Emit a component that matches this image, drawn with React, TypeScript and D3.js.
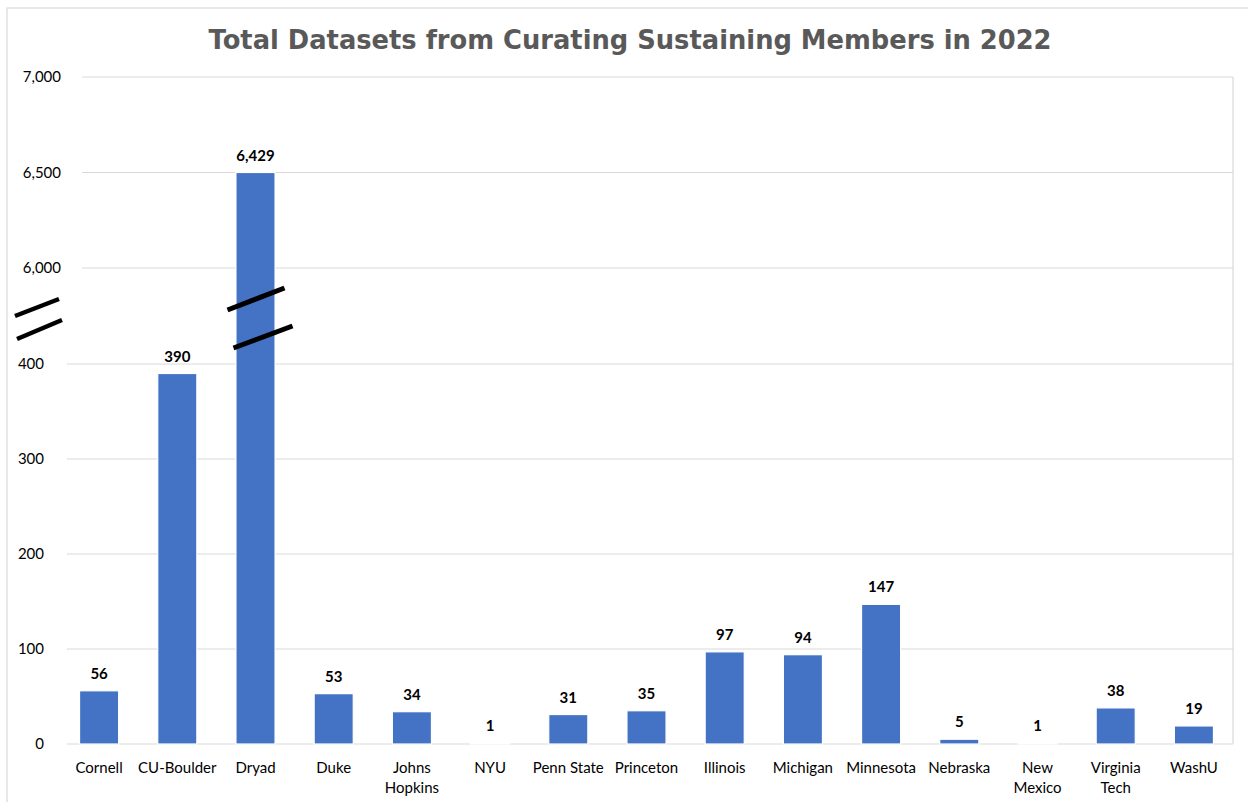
import React from "react";
import * as d3 from "d3";

const title = "Total Datasets from Curating Sustaining Members in 2022";
const categories = [
  ["Cornell"], ["CU-Boulder"], ["Dryad"], ["Duke"], ["Johns", "Hopkins"], ["NYU"],
  ["Penn State"], ["Princeton"], ["Illinois"], ["Michigan"], ["Minnesota"], ["Nebraska"],
  ["New", "Mexico"], ["Virginia", "Tech"], ["WashU"],
];
// printed data labels
const values = [56, 390, 6429, 53, 34, 1, 31, 35, 97, 94, 147, 5, 1, 38, 19];
// bar heights as drawn (Dryad bar reaches the 6,500 line)
const barValues = [56, 390, 6500, 53, 34, 1, 31, 35, 97, 94, 147, 5, 1, 38, 19];
const lowerTicks = [0, 100, 200, 300, 400];
const upperTicks = [6000, 6500, 7000];

const W = 1248;
const H = 802;
const grid = "#d9d9d9";
const barColor = "#4472C4";

export default function App() {
  const keys = categories.map((c) => c.join(" "));
  const x = d3.scaleBand<string>().domain(keys).range([60, 1233]).paddingInner(0.5).paddingOuter(0.25);
  const y = d3.scaleLinear().domain([0, 400, 6000, 7000]).range([744, 364, 268, 77]);
  const fmt = d3.format(",");
  const yb = (y(400) + y(6000)) / 2;
  const dryadX = (x("Dryad") as number) + x.bandwidth() / 2;
  const labelFont = "Lato, 'Open Sans', sans-serif";

  return (
    <svg width={W} height={H} style={{ position: "absolute", left: 0, top: 0, background: "#fff" }}>
      <rect x={7} y={8} width={W + 10} height={H + 10} fill="#fff" stroke={grid} strokeWidth={1.2} />
      <text
        x={630}
        y={49}
        textAnchor="middle"
        fontFamily="'DejaVu Sans', sans-serif"
        fontWeight="bold"
        fontSize={27}
        fill="#595959"
        textLength={843}
        lengthAdjust="spacingAndGlyphs"
      >
        {title}
      </text>

      {lowerTicks.map((t) => (
        <g key={"l" + t}>
          <line x1={67} x2={1233} y1={y(t)} y2={y(t)} stroke={grid} strokeWidth={1.2} />
          <text x={44} y={y(t)} dy="0.35em" textAnchor="end" fontFamily={labelFont} fontSize={15} fill="#000">
            {fmt(t)}
          </text>
        </g>
      ))}
      {upperTicks.map((t) => (
        <g key={"u" + t}>
          <line x1={82} x2={1233} y1={y(t)} y2={y(t)} stroke={grid} strokeWidth={1.2} />
          <text x={61} y={y(t)} dy="0.35em" textAnchor="end" fontFamily={labelFont} fontSize={15} fill="#000">
            {fmt(t)}
          </text>
        </g>
      ))}
      <line x1={1233} x2={1233} y1={y(7000)} y2={y(0)} stroke={grid} strokeWidth={1.2} />

      {keys.map((k, i) => {
        const bx = x(k) as number;
        const top = y(barValues[i]);
        return (
          <g key={k}>
            <rect
              x={bx}
              y={top}
              width={x.bandwidth()}
              height={y(0) - top}
              fill={barColor}
              stroke="#fff"
              strokeWidth={1.2}
            />
            <text
              x={bx + x.bandwidth() / 2}
              y={top - 12}
              textAnchor="middle"
              fontFamily={labelFont}
              fontWeight="bold"
              fontSize={15}
              fill="#000"
            >
              {fmt(values[i])}
            </text>
            {categories[i].map((line, j) => (
              <text
                key={j}
                x={bx + x.bandwidth() / 2}
                y={773 + j * 19.5}
                textAnchor="middle"
                fontFamily={labelFont}
                fontSize={15}
                fill="#000"
              >
                {line}
              </text>
            ))}
          </g>
        );
      })}

      {/* axis break marks */}
      <line x1={15} y1={yb} x2={59} y2={yb - 17} stroke="#000" strokeWidth={4.5} />
      <line x1={17} y1={yb + 23} x2={62} y2={yb + 4} stroke="#000" strokeWidth={4.5} />
      <line x1={dryadX - 28} y1={yb - 6} x2={dryadX + 29} y2={yb - 28} stroke="#000" strokeWidth={5} />
      <line x1={dryadX - 22} y1={yb + 32} x2={dryadX + 37} y2={yb + 10} stroke="#000" strokeWidth={5} />
    </svg>
  );
}
